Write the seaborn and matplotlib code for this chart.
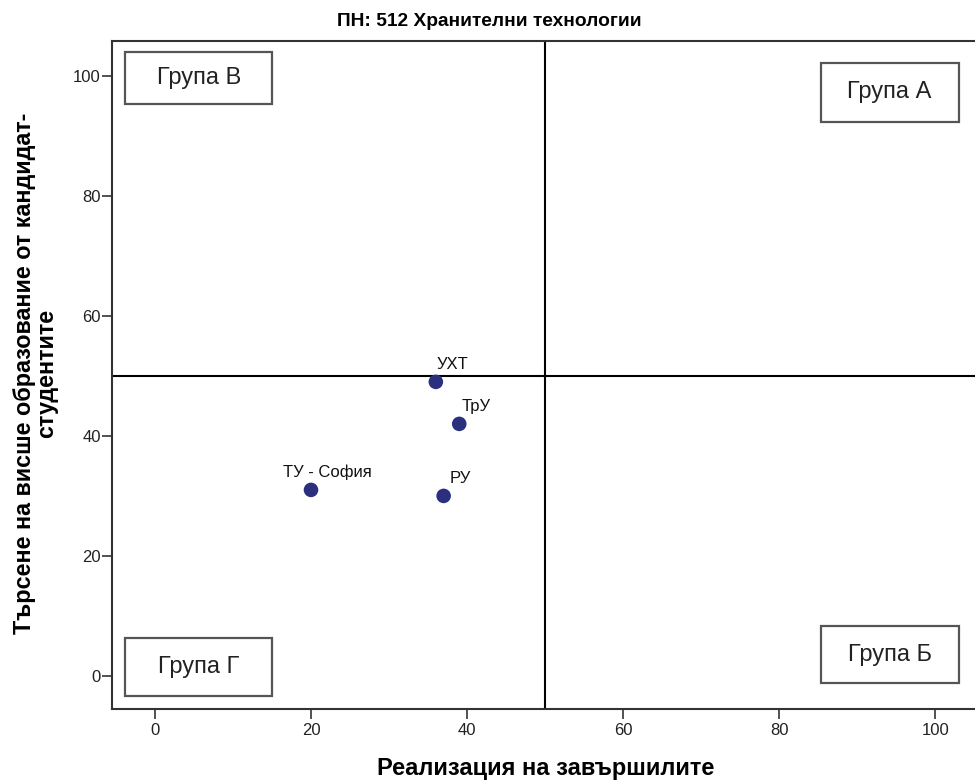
"""
Quadrant scatter for ПН: 512 Хранителни технологии.
"""

import matplotlib.pyplot as plt
from matplotlib.patches import Rectangle
import pandas as pd
import seaborn as sns


# Universities and their scores
universities = ['УХТ', 'ТрУ', 'РУ', 'ТУ - София']
realization = [36, 39, 37, 20]
demand = [49, 42, 30, 31]

# Quadrant labels
groups = ['Група В', 'Група А', 'Група Г', 'Група Б']


def main():
    """
    """

    df = pd.DataFrame({'uni': universities, 'x': realization, 'y': demand})

    sns.set_style('white')
    plt.rcParams['font.family'] = ['Liberation Sans', 'DejaVu Sans']
    plt.rcParams['text.color'] = 'black'

    fig = plt.figure(figsize=(9.75, 7.82), dpi=100)
    ax = fig.add_axes([0.1149, 0.0934, 0.8851, 0.8542])

    sns.scatterplot(data=df, x='x', y='y', ax=ax, color='#2a2f7e', s=110,
                    edgecolor='none', zorder=3)

    # Point labels, up and right of each point
    for _, row in df.iterrows():
        ax.annotate(row['uni'], (row['x'], row['y']), xytext=(12, 9.5),
                    textcoords='offset points', fontsize=12, ha='center',
                    va='baseline', color='#111111')

    # Reference lines
    ax.axvline(50, color='black', lw=1.5, zorder=2)
    ax.axhline(50, color='black', lw=1.5, zorder=2)

    # Group boxes (x0, y0, width, height) in data units
    boxes = [(-3.8, 95.3, 18.8, 8.7), (85.3, 92.3, 17.7, 9.9),
             (-3.8, -3.3, 18.8, 9.6), (85.3, -1.2, 17.7, 9.5)]
    for label, (bx, by, bw, bh) in zip(groups, boxes):
        ax.add_patch(Rectangle((bx, by), bw, bh, fill=False,
                               edgecolor='#555555', lw=1.6, zorder=4))
        ax.text(bx + bw / 2, by + bh / 2, label, fontsize=17,
                ha='center', va='center', color='#222222', zorder=5)

    ax.set_xlim(-5.5, 105.1)
    ax.set_ylim(-5.5, 105.8)
    ax.set_xticks([0, 20, 40, 60, 80, 100])
    ax.set_yticks([0, 20, 40, 60, 80, 100])
    ax.tick_params(axis='both', direction='out', length=7, width=1.2,
                   labelsize=12, bottom=True, left=True,
                   colors='#333333', labelcolor='#222222')
    ax.tick_params(axis='x', pad=3)
    ax.tick_params(axis='y', pad=1)
    for side in ['left', 'bottom', 'top']:
        ax.spines[side].set_color('#333333')
        ax.spines[side].set_linewidth(1.5)
    ax.spines['right'].set_visible(False)

    ax.set_xlabel('Реализация на завършилите', fontsize=17,
                  fontweight='bold', color='black')
    ax.xaxis.set_label_coords(0.502, -0.072)
    ax.set_ylabel('Търсене на висше образование от кандидат-\nстудентите',
                  fontsize=16.8, fontweight='bold', color='black',
                  linespacing=1.0)
    ax.yaxis.set_label_coords(-0.062, 0.503)
    ax.set_title('ПН: 512 Хранителни технологии', fontsize=13.8,
                 fontweight='bold', pad=11, x=0.437, color='black')

    plt.savefig('out.png', dpi=100)


if __name__ == "__main__":
    main()
